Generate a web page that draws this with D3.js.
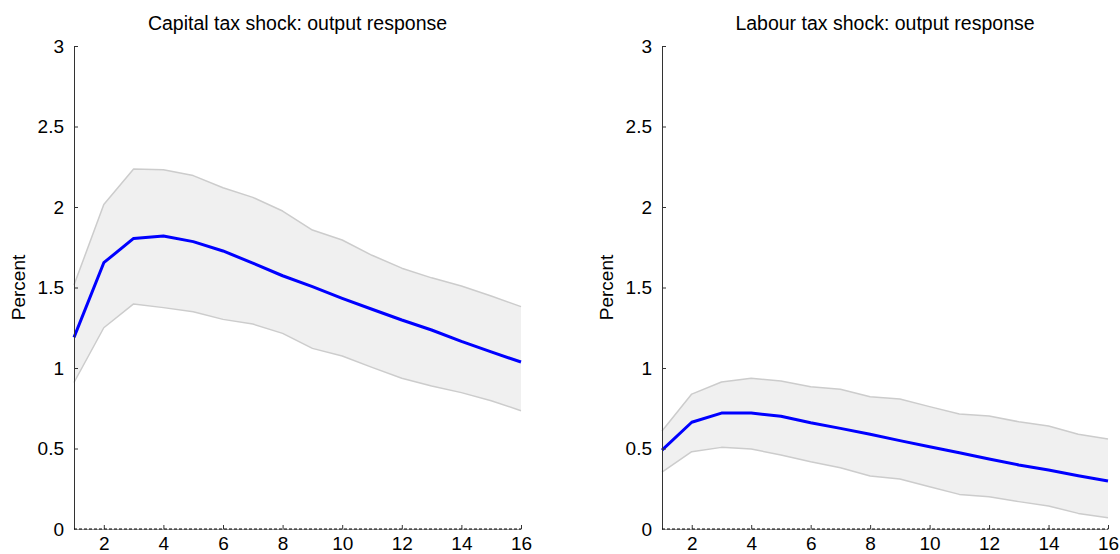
<!DOCTYPE html>
<html>
<head>
<meta charset="utf-8">
<script src="https://cdn.jsdelivr.net/npm/d3@7"></script>
<style>
  html, body { margin: 0; padding: 0; background: #fff; }
  svg { display: block; font-family: "Liberation Sans", Arial, Helvetica, sans-serif; }
</style>
</head>
<body>
<svg id="chart" width="1120" height="554"></svg>
<script>
// Horizon (quarters after the shock)
const horizon = d3.range(1, 17);

// Capital tax shock: output response (percent)
const capitalMedian = [1.19, 1.654, 1.805, 1.82, 1.785, 1.727, 1.652, 1.573, 1.505, 1.433, 1.365, 1.298, 1.236, 1.165, 1.10, 1.037];
const capitalUpper  = [1.515, 2.015, 2.236, 2.232, 2.195, 2.12, 2.06, 1.975, 1.857, 1.795, 1.70, 1.62, 1.56, 1.509, 1.447, 1.381];
const capitalLower  = [0.91, 1.25, 1.398, 1.375, 1.35, 1.302, 1.273, 1.215, 1.122, 1.075, 1.004, 0.936, 0.888, 0.847, 0.797, 0.735];

// Labour tax shock: output response (percent)
const labourMedian = [0.49, 0.663, 0.72, 0.72, 0.70, 0.66, 0.625, 0.588, 0.549, 0.511, 0.474, 0.435, 0.398, 0.366, 0.331, 0.298];
const labourUpper  = [0.609, 0.838, 0.913, 0.936, 0.919, 0.884, 0.868, 0.822, 0.807, 0.760, 0.714, 0.702, 0.666, 0.64, 0.588, 0.559];
const labourLower  = [0.354, 0.48, 0.507, 0.497, 0.46, 0.418, 0.381, 0.329, 0.311, 0.263, 0.215, 0.201, 0.170, 0.143, 0.097, 0.07];

const titles = ["Capital tax shock: output response", "Labour tax shock: output response"];
const yTicks = [0, 0.5, 1, 1.5, 2, 2.5, 3];
const xTicks = [2, 4, 6, 8, 10, 12, 14, 16];
const yLabel = "Percent";

const panels = [
  { title: titles[0], median: capitalMedian, upper: capitalUpper, lower: capitalLower, left: 74, right: 521 },
  { title: titles[1], median: labourMedian, upper: labourUpper, lower: labourLower, left: 662, right: 1108 }
];

const svg = d3.select("#chart");
const plotTop = 46, plotBottom = 529;
const fontSize = 19;
const titleSize = 19.5;

panels.forEach(p => {
  const x = d3.scaleLinear().domain([1, 16]).range([p.left, p.right]);
  const y = d3.scaleLinear().domain([0, 3]).range([plotBottom, plotTop]);
  const g = svg.append("g");

  // confidence band
  const band = d3.area()
    .x((d, i) => x(horizon[i]))
    .y0((d, i) => y(p.lower[i]))
    .y1((d, i) => y(p.upper[i]));
  g.append("path").datum(p.median).attr("d", band).attr("fill", "#f0f0f0").attr("stroke", "none");

  const edge = arr => d3.line().x((d, i) => x(horizon[i])).y(d => y(d))(arr);
  [p.upper, p.lower].forEach(arr => {
    g.append("path").attr("d", edge(arr)).attr("fill", "none")
      .attr("stroke", "#cccccc").attr("stroke-width", 1.5).attr("stroke-linejoin", "round");
  });

  // median response
  g.append("path").attr("d", edge(p.median)).attr("fill", "none")
    .attr("stroke", "#0000ff").attr("stroke-width", 3).attr("stroke-linejoin", "round");

  // y axis
  const yAxis = d3.axisLeft(y).tickValues(yTicks).tickSizeInner(-4).tickSizeOuter(0)
    .tickPadding(10).tickFormat(d3.format("~g"));
  const ya = g.append("g").attr("transform", `translate(${p.left},0)`).call(yAxis);
  ya.select(".domain").attr("stroke", "#333").attr("stroke-width", 1);
  ya.selectAll(".tick line").attr("stroke", "#333");
  ya.selectAll(".tick text").attr("font-size", fontSize).attr("fill", "#000")
    .attr("font-family", "Liberation Sans, Arial, sans-serif");

  // x axis
  const xAxis = d3.axisBottom(x).tickValues(xTicks).tickSizeInner(-4).tickSizeOuter(0)
    .tickPadding(8).tickFormat(d3.format("d"));
  const xa = g.append("g").attr("transform", `translate(0,${plotBottom})`).call(xAxis);
  xa.select(".domain").attr("stroke", "#999").attr("stroke-width", 1);
  xa.selectAll(".tick line").attr("stroke", "#333");
  xa.selectAll(".tick text").attr("font-size", fontSize).attr("fill", "#000")
    .attr("font-family", "Liberation Sans, Arial, sans-serif");

  // zero reference line
  g.append("line")
    .attr("x1", x(1)).attr("x2", x(16)).attr("y1", y(0)).attr("y2", y(0))
    .attr("stroke", "#000").attr("stroke-width", 1).attr("stroke-dasharray", "3,2");

  // title
  g.append("text").attr("x", (p.left + p.right) / 2).attr("y", 30)
    .attr("text-anchor", "middle").attr("font-size", titleSize).attr("fill", "#000")
    .text(p.title);

  // y label
  g.append("text")
    .attr("transform", `translate(${p.left - 49},${(plotTop + plotBottom) / 2}) rotate(-90)`)
    .attr("text-anchor", "middle").attr("font-size", fontSize).attr("fill", "#000")
    .text(yLabel);
});
</script>
</body>
</html>
